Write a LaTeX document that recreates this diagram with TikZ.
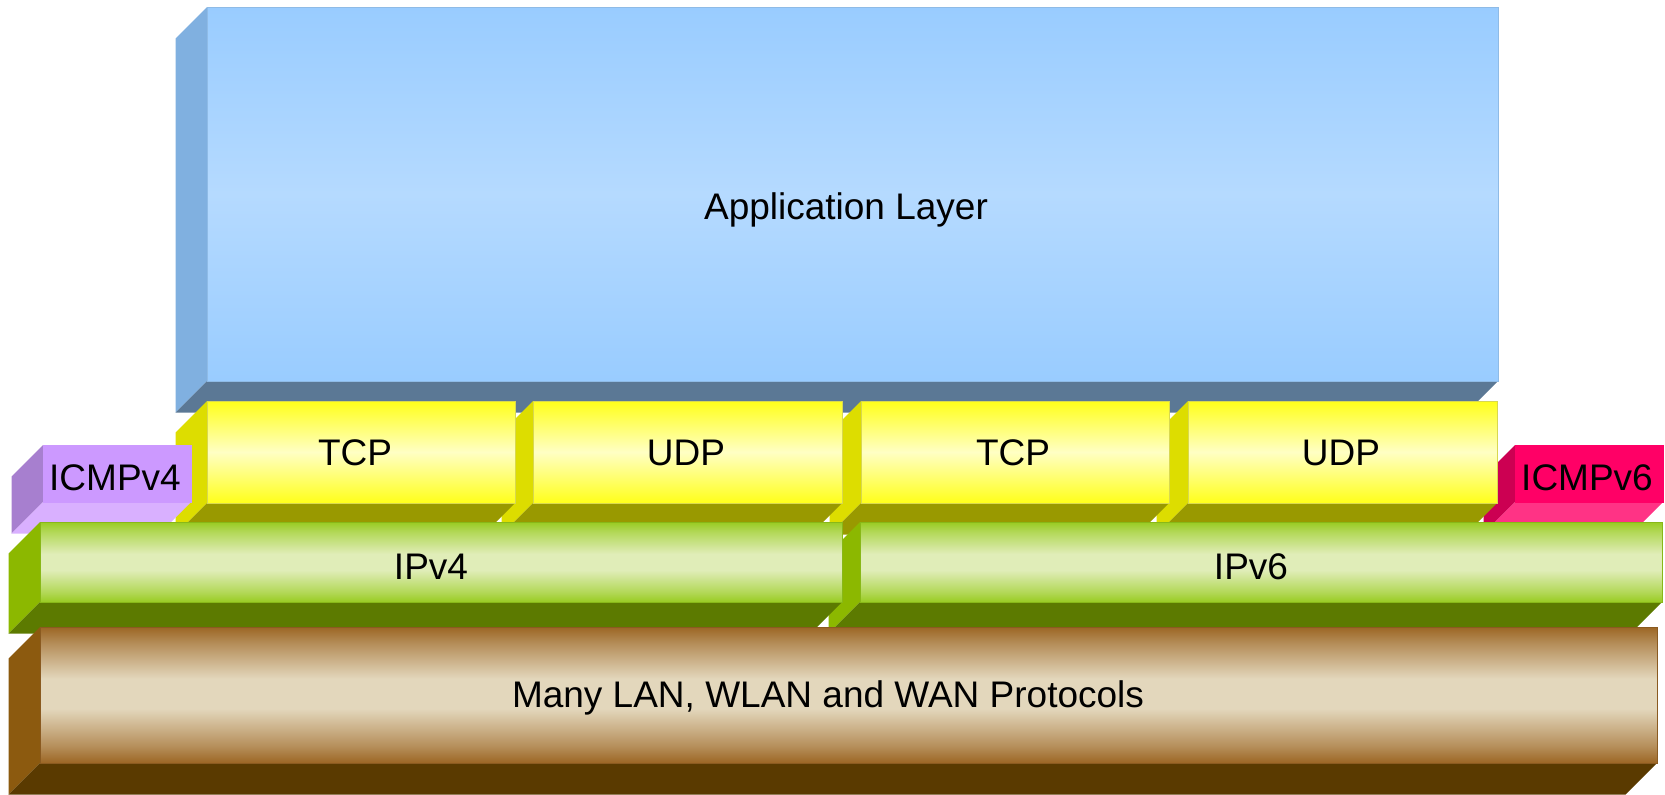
\documentclass[tikz,border=0pt]{standalone}
\usepackage{fontspec}
\setmainfont{Liberation Sans}
\definecolor{appA}{HTML}{99CCFF}
\definecolor{appB}{HTML}{B5DAFF}
\definecolor{appS}{HTML}{80B0E0}
\definecolor{appD}{HTML}{5B7895}
\definecolor{appL}{HTML}{8FBBE6}
\definecolor{yelA}{HTML}{FFFF1A}
\definecolor{yelB}{HTML}{FFFFC4}
\definecolor{yelS}{HTML}{DDDD00}
\definecolor{yelD}{HTML}{999900}
\definecolor{yelL}{HTML}{D8D850}
\definecolor{grnA}{HTML}{99CC22}
\definecolor{grnB}{HTML}{E0EDB8}
\definecolor{grnS}{HTML}{8CB800}
\definecolor{grnD}{HTML}{5C7A00}
\definecolor{grnL}{HTML}{88B818}
\definecolor{brnA}{HTML}{9C6624}
\definecolor{brnB}{HTML}{E3D7BC}
\definecolor{brnS}{HTML}{8C5A0F}
\definecolor{brnD}{HTML}{5A3A00}
\definecolor{brnL}{HTML}{8A5A20}
\definecolor{purA}{HTML}{CC99FF}
\definecolor{purS}{HTML}{A77FCF}
\definecolor{purD}{HTML}{D9B0FF}
\definecolor{pnkA}{HTML}{FF0066}
\definecolor{pnkS}{HTML}{CC0052}
\definecolor{pnkD}{HTML}{FF3385}
\pgfdeclareverticalshading{grnshade}{100bp}{color(0bp)=(grnA); color(25bp)=(grnA); color(31bp)=(grnA!65!grnB); color(45bp)=(grnB); color(55bp)=(grnB); color(69bp)=(grnA!65!grnB); color(75bp)=(grnA); color(100bp)=(grnA)}
\pgfdeclareverticalshading{brnshade}{100bp}{color(0bp)=(brnA); color(25bp)=(brnA); color(31bp)=(brnA!65!brnB); color(45bp)=(brnB); color(56bp)=(brnB); color(69bp)=(brnA!65!brnB); color(75bp)=(brnA); color(100bp)=(brnA)}
\def\dd{31.5}
\newcommand\layerbox[8]{%
  \fill[#6] (#1,#2) -- (#1,#4) -- (#1-\dd,#4+\dd) -- (#1-\dd,#2+\dd) -- cycle;
  \fill[#7] (#1,#4) -- (#3,#4) -- (#3-\dd,#4+\dd) -- (#1-\dd,#4+\dd) -- cycle;
  \path[#5,draw=#8,line width=0.8pt] (#1,#2) rectangle (#3,#4);
}
\begin{document}
\begin{tikzpicture}[x=1pt,y=-1pt,
  lbl/.style={anchor=base, inner sep=0pt, font=\fontsize{37}{44}\selectfont},
  appface/.style={top color=appA, bottom color=appA, middle color=appB},
  yface/.style={top color=yelA, bottom color=yelA, middle color=yelB},
  gface/.style={shading=grnshade},
  bface/.style={shading=brnshade},
  pface/.style={fill=purA},
  rface/.style={fill=pnkA}]
\useasboundingbox (0,0) rectangle (1665,795);
% application layer
\layerbox{207}{7}{1498}{381}{appface}{appS}{appD}{appL}
% ICMPv6
\layerbox{1515}{445}{1663}{502}{rface}{pnkS}{pnkD}{pnkA}
% transport row, right to left
\layerbox{1188}{401}{1497}{503}{yface}{yelS}{yelD}{yelL}
\layerbox{861}{401}{1169}{503}{yface}{yelS}{yelD}{yelL}
\layerbox{533}{401}{842}{503}{yface}{yelS}{yelD}{yelL}
\layerbox{207}{401}{515}{503}{yface}{yelS}{yelD}{yelL}
% ICMPv4
\layerbox{43}{445}{191}{502}{pface}{purS}{purD}{purA}
% IP row
\layerbox{860}{522}{1662}{602}{gface}{grnS}{grnD}{grnL}
\layerbox{40}{522}{842}{602}{gface}{grnS}{grnD}{grnL}
% link layer
\layerbox{40}{627}{1657}{763}{bface}{brnS}{brnD}{brnL}
% labels
\node[lbl] (app) at (846,219) {Application Layer};
\node[lbl] (tcp1) at (355,465) {TCP};
\node[lbl] (udp1) at (686,465) {UDP};
\node[lbl] (tcp2) at (1013,465) {TCP};
\node[lbl] (udp2) at (1341,465) {UDP};
\node[lbl] (icmp4) at (115,490) {ICMPv4};
\node[lbl] (icmp6) at (1587,490) {ICMPv6};
\node[lbl] (ipv4) at (431,579) {IPv4};
\node[lbl] (ipv6) at (1251,579) {IPv6};
\node[lbl] (lan) at (828,707) {Many LAN, WLAN and WAN Protocols};
\end{tikzpicture}
\end{document}
